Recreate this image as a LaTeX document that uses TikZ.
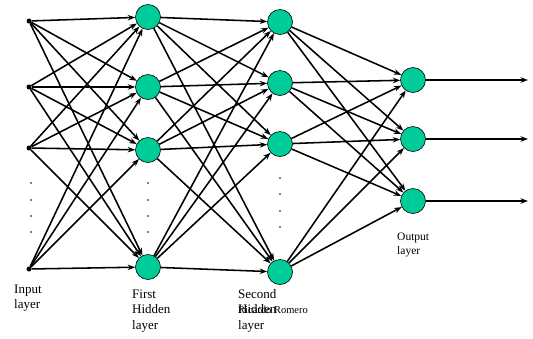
\documentclass[tikz,border=0pt]{standalone}
\usepackage{fontspec}
\setmainfont{Liberation Serif}
\usetikzlibrary{arrows.meta}
\definecolor{nodegreen}{RGB}{0,204,153}
\begin{document}
\begin{tikzpicture}[x=1pt,y=-1pt,
  neuron/.style={circle,draw=black,line width=0.6pt,fill=nodegreen,minimum size=25pt,inner sep=0pt},
  inp/.style={circle,fill=black,minimum size=5pt,inner sep=0pt},
  arr/.style={line width=1.55pt,-{Stealth[length=7.5pt,width=5.5pt]}},
  dotmark/.style={circle,fill=black,minimum size=1.6pt,inner sep=0pt},
  lbl/.style={font=\fontsize{13}{15.5}\selectfont,align=left,anchor=base west,inner sep=0pt},
  lblo/.style={font=\fontsize{11.5}{14}\selectfont,align=left,anchor=base west,inner sep=0pt},
  lbls/.style={font=\fontsize{10.5}{13}\selectfont,align=left,anchor=base west,inner sep=0pt}]
\useasboundingbox (0,0) rectangle (533,338);
% input layer
\node[inp] (i1) at (29,21) {};
\node[inp] (i2) at (29,87) {};
\node[inp] (i3) at (29,148) {};
\node[inp] (i4) at (29,269) {};
% first hidden
\node[neuron] (h1) at (148,17) {};
\node[neuron] (h2) at (148,87) {};
\node[neuron] (h3) at (148,150) {};
\node[neuron] (h4) at (148,267) {};
% second hidden
\node[neuron] (s1) at (280,22) {};
\node[neuron] (s2) at (280,83) {};
\node[neuron] (s3) at (280,144) {};
\node[neuron] (s4) at (280,272) {};
% output
\node[neuron] (o1) at (413,80) {};
\node[neuron] (o2) at (413,139) {};
\node[neuron] (o3) at (413,201) {};
\coordinate (e1) at (528,80);
\coordinate (e2) at (528,139);
\coordinate (e3) at (528,201);
% dots
\foreach \y [count=\k] in {183,200,216,232} {
  \node[dotmark] (da\k) at (31,\y) {};
  \node[dotmark] (db\k) at (148,\y) {};
}
\foreach \y [count=\k] in {178,194,211,227} {
  \node[dotmark] (dc\k) at (280,\y) {};
}
% connections
\foreach \a in {1,...,4} {
  \foreach \b in {1,...,4} {
    \draw[arr] (i\a) -- (h\b);
    \draw[arr] (h\a) -- (s\b);
  }
  \foreach \b in {1,2,3} {
    \draw[arr] (s\a) -- (o\b);
  }
}
\draw[arr] (o1) -- (e1);
\draw[arr] (o2) -- (e2);
\draw[arr] (o3) -- (e3);
% labels (anchored at the baseline of the last line)
\node[lbl] (l1) at (14,308.5) {Input\\layer};
\node[lbl] (l2) at (132,329) {First\\Hidden\\layer};
\node[lbl] (l3) at (238,329) {Second\\Hidden\\layer};
\node[lbls] (l5) at (238,313.5) {Ricardo Romero};
\node[lblo] (l4) at (397,254) {Output\\layer};
\end{tikzpicture}
\end{document}
